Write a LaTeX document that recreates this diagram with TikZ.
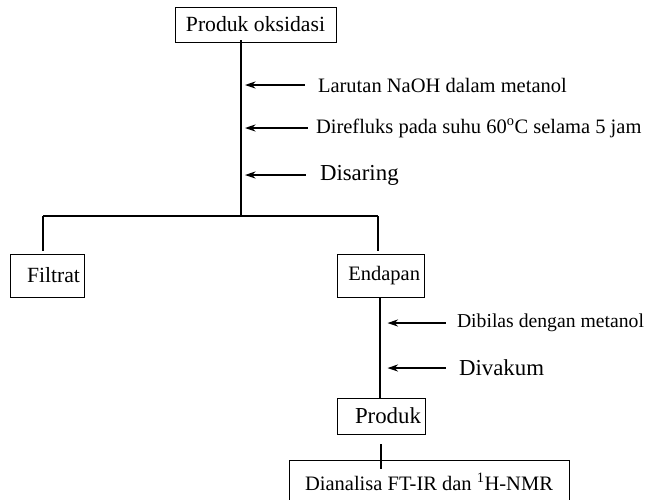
\documentclass[tikz,border=0pt]{standalone}
\usepackage{fontspec}
\setmainfont{Liberation Serif}
\usetikzlibrary{arrows.meta}

\begin{document}
\begin{tikzpicture}[x=0.03cm,y=-0.03cm,inner sep=0pt,outer sep=0pt,
procbox/.style={draw,rectangle,line width=0.8pt,inner xsep=0.12cm,font=\fontsize{18.5}{21}\selectfont},
note/.style={anchor=west,font=\fontsize{17.5}{20}\selectfont},
bignote/.style={anchor=west,font=\fontsize{19.5}{22}\selectfont},
feed/.style={{Stealth[length=9pt,width=6pt]}-,line width=1.1pt},
trunk/.style={line width=1.7pt},
branch/.style={line width=1pt}]

\useasboundingbox (0,0) rectangle (649,499);

\draw (255.5,24.5) node[procbox,minimum width=4.83cm,minimum height=1.05cm] (oksidasi) {Produk oksidasi};
\draw (47,275.5) node[procbox,text width=1.98cm,align=right,minimum height=1.29cm] (filtrat) {Filtrat};
\draw (380.5,275.5) node[procbox,text width=2.37cm,align=right,minimum height=1.29cm,font=\fontsize{17.5}{20}\selectfont] (endapan) {Endapan};
\draw (381,416) node[procbox,text width=2.4cm,align=right,minimum height=1.08cm,font=\fontsize{19.5}{22}\selectfont] (produk) {Produk};
\draw (429,482) node[procbox,minimum width=8.4cm,minimum height=1.32cm,font=\fontsize{17.5}{20}\selectfont] (analisa) {Dianalisa FT-IR dan \textsuperscript{1}H-NMR};

\draw (318,85) node[note] (larutan) {Larutan NaOH dalam metanol};
\draw (316,128) node[note] (refluks) {Direfluks pada suhu 60\textsuperscript{o}C selama 5 jam};
\draw (320,175) node[bignote] (saring) {Disaring};
\draw (457,323) node[note,font=\fontsize{16.8}{20}\selectfont] (bilas) {Dibilas dengan metanol};
\draw (459,368) node[bignote] (vakum) {Divakum};

\coordinate (split) at (241,216);
\coordinate (lefttop) at (43,216);
\coordinate (righttop) at (378,216);

\draw[trunk] ([shift={(0,-2)}]split |- oksidasi.south) -- (split);
\draw[trunk] (lefttop) -- (righttop);
\draw[branch] (lefttop) -- ([shift={(0,-3)}]lefttop |- filtrat.north);
\draw[branch] (righttop) -- ([shift={(0,-3)}]righttop |- endapan.north);
\draw[branch] ([shift={(-0.5,1)}]endapan.south) -- ([shift={(-1,0)}]produk.north);
\draw[branch] ([shift={(0,10)}]produk.south) -- ([shift={(0,9)}]produk.south |- analisa.north);

\draw[feed] ([shift={(4,0)}]split |- larutan.west) -- ([shift={(-13,0)}]larutan.west);
\draw[feed] ([shift={(4,0)}]split |- refluks.west) -- ([shift={(-8,0)}]refluks.west);
\draw[feed] ([shift={(4,0)}]split |- saring.west) -- ([shift={(-14,0)}]saring.west);
\draw[feed] ([shift={(7,0)}]endapan.south |- bilas.west) -- ([shift={(-11,0)}]bilas.west);
\draw[feed] ([shift={(7,0)}]endapan.south |- vakum.west) -- ([shift={(-13,0)}]vakum.west);

\end{tikzpicture}
\end{document}
